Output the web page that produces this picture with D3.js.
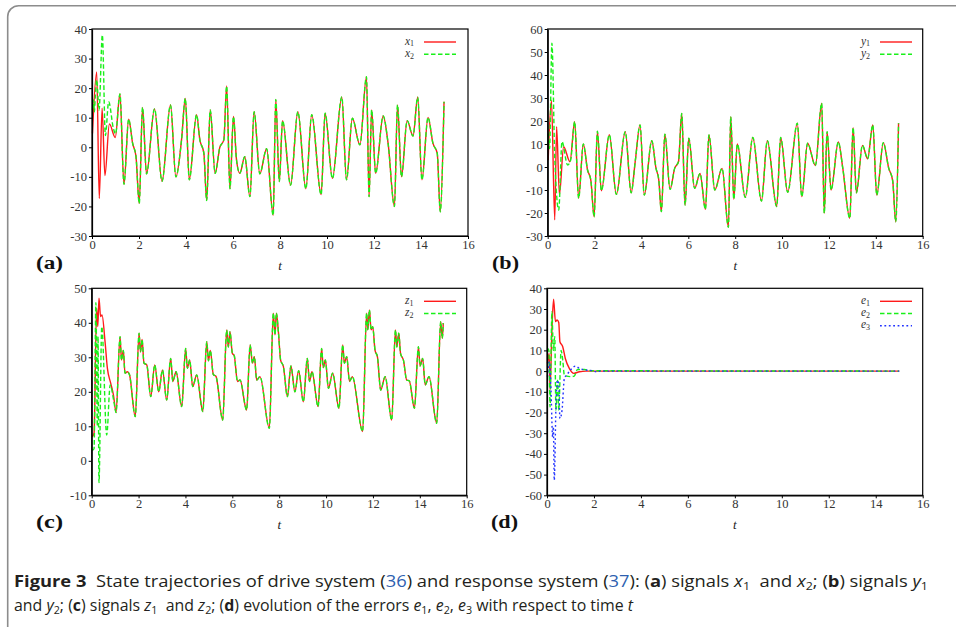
<!DOCTYPE html>
<html><head><meta charset="utf-8">
<script src="https://cdn.jsdelivr.net/npm/d3@7"></script>
<style>body{margin:0;background:#fff} svg{display:block}</style>
</head><body><svg id="c" width="956" height="627"></svg>
<script>
// ---------------- data ----------------
const xTicks = [0,2,4,6,8,10,12,14,16];
const yTicksA = [-30,-20,-10,0,10,20,30,40];
const yTicksB = [-30,-20,-10,0,10,20,30,40,50,60];
const yTicksC = [-10,0,10,20,30,40,50];
const yTicksD = [-60,-50,-40,-30,-20,-10,0,10,20,30,40];

// panel (a): x1 (drive) and x2 (response)
const x1Early = [[0.02,4.7],[0.2,25.5],[0.31,-17.3],[0.43,13.2],[0.55,-9.6],[0.74,7.9],[0.99,3.3]];
const x2Early = [[0.02,12.6],[0.06,16],[0.1,12],[0.14,17],[0.2,22.8],[0.3,12.6],[0.44,38],[0.57,4],[0.71,15.4],[0.91,6.4],[1.0,4.5]];
const xCommon = [[1.19,18],[1.36,-12.5],[1.56,9.5],[1.73,1.3],[1.87,-3],[2.01,-19],[2.15,13.5],[2.32,-9],[2.66,13],[2.98,-11.5],[3.34,14.3],[3.57,-10],[3.81,2.5],[3.97,16.5],[4.14,-11],[4.45,11],[4.59,2.5],[4.76,-2],[4.88,-18],[5.03,12.6],[5.24,-8.8],[5.44,0],[5.61,2.5],[5.73,20.7],[5.87,-14],[6.02,10.4],[6.15,-4.3],[6.29,-8.8],[6.5,-3.2],[6.72,-16.7],[6.9,12],[7.14,-9],[7.43,-0.5],[7.71,-23],[7.82,16.2],[7.97,-11.6],[8.11,9],[8.45,-12.8],[8.76,12],[9.1,-14],[9.35,11],[9.75,-16],[9.92,11.5],[10.23,-10.5],[10.63,17],[10.83,-11],[11.08,9.8],[11.4,0.8],[11.68,23.9],[11.79,-16.7],[11.9,12.6],[12.07,-8.8],[12.39,10.6],[12.6,1.3],[12.87,-20],[13.0,14.3],[13.17,-10],[13.41,9],[13.66,3.8],[13.86,16.9],[14.04,-11],[14.3,10.1],[14.51,1.3],[14.69,-2],[14.82,-21.8],[14.98,15.4]];

// panel (b): y1 and y2
const y1Early = [[0.02,3],[0.16,29],[0.3,-23],[0.38,17.5],[0.5,-12],[0.68,8.8],[0.95,2.3]];
const y2Early = [[0.02,14.6],[0.08,8],[0.18,53.8],[0.3,4.5],[0.47,-18.7],[0.61,11],[0.85,0.9],[0.98,3]];
const yCommon = [[1.15,19.7],[1.32,-13.6],[1.52,10],[1.7,-1.3],[1.84,-5.7],[1.98,-21.6],[2.12,15.6],[2.29,-10.3],[2.63,14],[2.93,-11.9],[3.31,15.4],[3.56,-11.2],[3.74,2.9],[3.94,18.3],[4.12,-12.2],[4.44,11.4],[4.62,-0.5],[4.74,-5.7],[4.85,-19.4],[5.0,14.3],[5.22,-9.7],[5.42,-0.5],[5.58,2.3],[5.72,23.3],[5.86,-16.5],[6.02,12.5],[6.27,-9.3],[6.5,-2.8],[6.73,-18.4],[6.88,13.9],[7.13,-10],[7.44,-0.6],[7.71,-26.2],[7.81,21.9],[7.94,-14],[8.09,10],[8.43,-13.2],[8.75,12.8],[9.12,-14.8],[9.37,11.4],[9.77,-17.2],[9.94,12.8],[10.24,-11],[10.65,19],[10.84,-12.9],[11.09,10.3],[11.42,0.6],[11.69,27.7],[11.8,-20.1],[11.92,15.4],[12.09,-10],[12.4,10.9],[12.59,-0.5],[12.89,-22.3],[13.03,17.1],[13.17,-11.2],[13.43,9.4],[13.65,3.6],[13.87,18.3],[14.04,-12.2],[14.32,10.6],[14.55,-0.5],[14.72,-6],[14.85,-23.8],[14.97,19]];

// panel (c): z1 and z2
const z1Early = [[0.02,7],[0.1,8],[0.21,44.2],[0.26,38.9],[0.31,47.1],[0.38,41.8],[0.44,42.3],[0.57,34.5],[0.67,26.8],[0.81,22.5],[0.93,19]];
const z2Early = [[0.02,3],[0.1,3.5],[0.18,45.8],[0.24,10],[0.27,36],[0.31,-6.3],[0.43,38.9],[0.64,7.5],[0.79,22],[0.95,17]];
const zCommon = [[1.04,14],[1.21,36],[1.27,29.2],[1.35,32],[1.42,25.4],[1.52,25.8],[1.61,25],[1.86,12.8],[2.02,37],[2.08,31.6],[2.15,35.2],[2.23,28.3],[2.35,27.8],[2.52,18.6],[2.69,27.8],[2.86,20],[3.02,26.3],[3.2,17.6],[3.37,29.7],[3.46,23],[3.6,25.8],[3.84,15.7],[4.01,32.6],[4.08,26.8],[4.18,29.2],[4.31,21.5],[4.48,24.9],[4.74,14.3],[4.91,34.5],[4.98,29],[5.06,32],[5.19,25],[5.3,24.5],[5.59,11.8],[5.76,37.9],[5.83,33],[5.9,37.4],[6.0,31.2],[6.08,30.5],[6.22,23],[6.33,23.4],[6.61,14.7],[6.76,33.6],[6.86,28.3],[6.94,30.2],[7.04,23.4],[7.18,24.4],[7.58,9.4],[7.75,42.8],[7.82,36.5],[7.88,42.8],[7.97,37],[8.06,29.2],[8.18,27.3],[8.35,18.6],[8.5,27.5],[8.67,20],[8.83,26.1],[9.03,17.1],[9.2,29.7],[9.29,23],[9.4,25.8],[9.66,15.7],[9.81,32.6],[9.88,27],[9.97,29.2],[10.1,21],[10.28,25.4],[10.55,15.2],[10.71,33.6],[10.78,28.3],[10.88,30.2],[11.0,23],[11.12,24.4],[11.56,8.5],[11.73,42.8],[11.78,38],[11.85,43.7],[11.92,38],[11.99,38.9],[12.09,32],[12.19,30.2],[12.33,20.5],[12.52,24.4],[12.8,11.8],[12.96,37.9],[13.02,33],[13.1,37],[13.18,31],[13.3,29.2],[13.44,23.4],[13.55,23.2],[13.77,15.2],[13.94,33.1],[14.01,27.5],[14.12,29.7],[14.23,22],[14.39,24.4],[14.72,10.9],[14.89,40.3],[14.96,35.5],[15.0,39.9]];

// panel (d): errors
const e1 = [[0.02,3.7],[0.09,8.5],[0.13,-9],[0.21,20],[0.28,34.7],[0.36,23.9],[0.43,24.7],[0.5,23.5],[0.55,14.2],[0.67,11.8],[0.78,6.1],[0.95,1.3],[1.14,-1.1],[1.38,-0.3],[1.66,0],[15,0]];
const e2 = [[0.02,11],[0.08,10],[0.13,-17.3],[0.21,28.7],[0.27,10],[0.33,16.6],[0.38,-18.9],[0.45,-4.4],[0.5,-18.9],[0.6,10],[0.67,5.3],[0.74,-2],[1.02,-2.7],[1.16,-2.4],[1.3,0.8],[1.59,0.8],[1.87,0.2],[15,0]];
const e3 = [[0.02,-2.7],[0.1,4.5],[0.17,-9.2],[0.24,-31.8],[0.27,-27],[0.31,-52.7],[0.38,-17.3],[0.44,-4.4],[0.5,-6],[0.55,-22.9],[0.64,-18.9],[0.74,-3.5],[0.84,-1.9],[1.02,0.8],[1.21,2.4],[1.38,1.3],[1.66,0.5],[1.94,0.2],[2.09,-0.3],[2.3,0],[15,0]];

// ---------------- drawing ----------------
const svg = d3.select('#c');
const RED = '#ff1a1a', GREEN = '#19f019', BLUE = '#2233ff';
const serif = '"Liberation Serif", "DejaVu Serif", serif';

svg.append('rect').attr('x',7.7).attr('y',5.7).attr('width',1000).attr('height',640)
  .attr('rx',11).attr('fill','none').attr('stroke','#8c8c8c').attr('stroke-width',1.6);

function panel(cfg){
  const x = d3.scaleLinear().domain([0,16]).range([cfg.x0,cfg.x1]);
  const y = d3.scaleLinear().domain(cfg.yd).range([cfg.y1,cfg.y0]);
  const g = svg.append('g');
  const line = d3.line().x(d=>x(d[0])).y(d=>y(d[1])).curve(d3.curveMonotoneX);

  cfg.series.forEach(s=>{
    g.append('path').attr('d',line(s.data)).attr('fill','none')
      .attr('stroke',s.color).attr('stroke-width',1.4)
      .attr('stroke-dasharray',s.dash||null).attr('stroke-linejoin','round');
  });

  // frame
  g.append('rect').attr('x',cfg.x0).attr('y',cfg.y0).attr('width',cfg.x1-cfg.x0).attr('height',cfg.y1-cfg.y0)
    .attr('fill','none').attr('stroke','#000').attr('stroke-width',1.2);

  const ax = g.append('g').attr('transform',`translate(0,${cfg.y1})`)
    .call(d3.axisBottom(x).tickValues(xTicks).tickSize(3).tickSizeOuter(0).tickPadding(1).tickFormat(d=>String(d)));
  const ay = g.append('g').attr('transform',`translate(${cfg.x0},0)`)
    .call(d3.axisLeft(y).tickValues(cfg.yt).tickSize(3).tickSizeOuter(0).tickPadding(2).tickFormat(d=>String(d)));
  [ax,ay].forEach(a=>{
    a.attr('font-family',serif).attr('font-size',12.5);
    a.select('.domain').attr('stroke','#000').attr('stroke-width',1.2);
    a.selectAll('.tick line').attr('stroke','#000').attr('stroke-width',1);
    a.selectAll('.tick text').attr('fill','#333');
  });

  // axis label t
  g.append('text').attr('x',(cfg.x0+cfg.x1)/2).attr('y',cfg.y1+34).attr('text-anchor','middle')
    .attr('font-family',serif).attr('font-style','italic').attr('font-size',13).attr('fill','#222').text('t');

  // panel label
  g.append('text').attr('x',cfg.lx).attr('y',cfg.y1+33).attr('font-family',serif).attr('font-weight','bold')
    .attr('font-size',18).attr('fill','#111').attr('textLength',27).attr('lengthAdjust','spacingAndGlyphs').text(cfg.label);

  // legend
  cfg.series.forEach((s,i)=>{
    const yy = cfg.y0 + 13 + i*12.2;
    const t = g.append('text').attr('x',cfg.legX).attr('y',yy+2.5).attr('font-family',serif).attr('fill','#333');
    t.append('tspan').attr('font-style','italic').attr('font-size',11.5).text(s.name);
    t.append('tspan').attr('font-size',8).attr('dy',1.8).text(s.sub);
    g.append('line').attr('x1',cfg.legX+19).attr('x2',cfg.legX+51).attr('y1',yy).attr('y2',yy)
      .attr('stroke',s.color).attr('stroke-width',1.4).attr('stroke-dasharray',s.dash||null);
  });
}

const DASH = '4.5,2.5', DOT = '1.8,2.6';
panel({x0:92,x1:468,y0:29,y1:236,yd:[-30,40],yt:yTicksA,label:'(a)',lx:36,legX:405,
  series:[{name:'x',sub:'1',color:RED,data:x1Early.concat(xCommon)},
          {name:'x',sub:'2',color:GREEN,dash:DASH,data:x2Early.concat(xCommon)}]});
panel({x0:547.7,x1:922.7,y0:29,y1:236,yd:[-30,60],yt:yTicksB,label:'(b)',lx:492,legX:861,
  series:[{name:'y',sub:'1',color:RED,data:y1Early.concat(yCommon)},
          {name:'y',sub:'2',color:GREEN,dash:DASH,data:y2Early.concat(yCommon)}]});
panel({x0:91.7,x1:466.7,y0:288.3,y1:495.3,yd:[-10,50],yt:yTicksC,label:'(c)',lx:36,legX:405,
  series:[{name:'z',sub:'1',color:RED,data:z1Early.concat(zCommon)},
          {name:'z',sub:'2',color:GREEN,dash:DASH,data:z2Early.concat(zCommon)}]});
panel({x0:547,x1:922.7,y0:288.3,y1:495.3,yd:[-60,40],yt:yTicksD,label:'(d)',lx:861 - 370,legX:861,
  series:[{name:'e',sub:'1',color:RED,data:e1},
          {name:'e',sub:'2',color:GREEN,dash:DASH,data:e2},
          {name:'e',sub:'3',color:BLUE,dash:DOT,data:e3}]});

// ---------------- caption ----------------
const cap1 = [
  {t:'Figure 3',b:1},{t:'\u00a0\u00a0State trajectories of drive system ('},{t:'36',c:1},{t:') and response system ('},{t:'37',c:1},
  {t:'): ('},{t:'a',b:1},{t:') signals '},{t:'x',i:1},{t:'1',s:1},{t:'\u00a0 and '},{t:'x',i:1},{t:'2',s:1},{t:'; ('},{t:'b',b:1},
  {t:') signals '},{t:'y',i:1},{t:'1',s:1}];
const cap2 = [
  {t:'and '},{t:'y',i:1},{t:'2',s:1},{t:'; ('},{t:'c',b:1},{t:') signals '},{t:'z',i:1},{t:'1',s:1},{t:'\u00a0 and '},{t:'z',i:1},{t:'2',s:1},
  {t:'; ('},{t:'d',b:1},{t:') evolution of the errors '},{t:'e',i:1},{t:'1',s:1},{t:', '},{t:'e',i:1},{t:'2',s:1},{t:', '},{t:'e',i:1},{t:'3',s:1},
  {t:' with respect to time '},{t:'t',i:1}];
function caption(parts,y,len){
  const t = svg.append('text').attr('x',14).attr('y',y).attr('font-family','"Open Sans","Noto Sans",sans-serif')
    .attr('font-size',15.5).attr('fill','#231f20').attr('textLength',len).attr('lengthAdjust','spacingAndGlyphs')
    .style('white-space','pre');
  let sub=false;
  parts.forEach(p=>{
    const s = t.append('tspan').text(p.t.replace(/ /g,'\u00a0'));
    if(p.b) s.attr('font-weight','bold');
    if(p.i) s.attr('font-style','italic');
    if(p.c) s.attr('fill','#2e5fb0');
    if(p.s){ s.attr('font-size',10.5).attr('dy',3); sub=true; }
    else if(sub){ s.attr('dy',-3); sub=false; }
  });
}
caption(cap1,587,914);
caption(cap2,611,619);
</script></body></html>
